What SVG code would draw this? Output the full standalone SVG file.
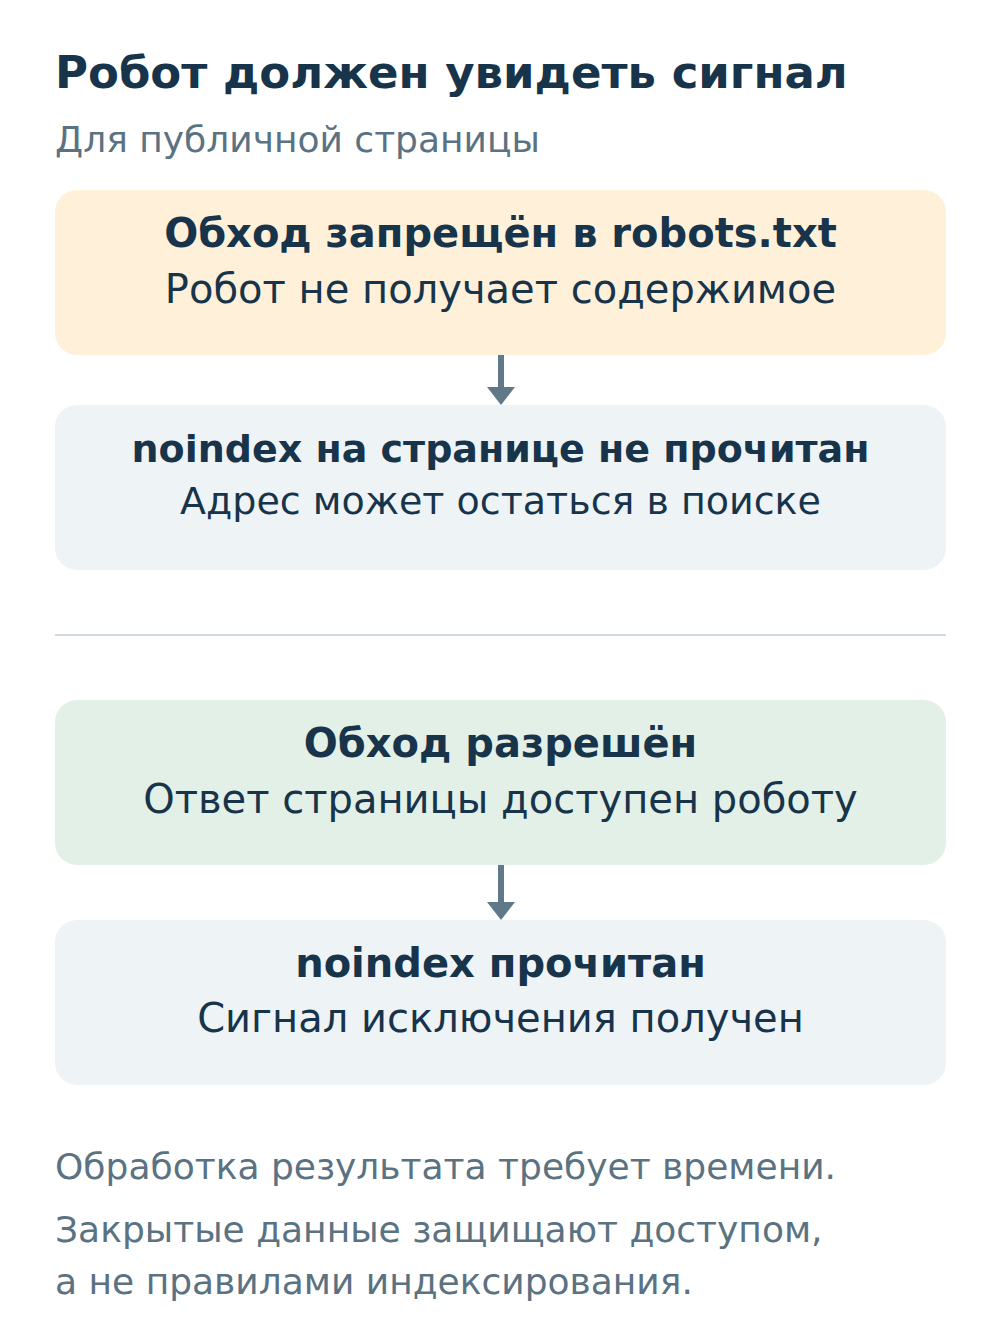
<svg xmlns="http://www.w3.org/2000/svg" width="1000" height="1340" viewBox="0 0 1000 1340">
<style>
.t{font-family:"DejaVu Sans",sans-serif;fill:#18344a}
.h{font-size:45px;font-weight:bold}
.sub{font-family:"DejaVu Sans",sans-serif;fill:#5b7282;font-size:36px}
.bt{font-size:40px;font-weight:bold}
.bb{font-size:40px}
.fit{font-size:38px}
.box{stroke:none}
.conn{stroke:#5f7989;stroke-width:6;fill:none}
.ah{fill:#5f7989}
</style>
<rect width="1000" height="1340" fill="#ffffff"/>
<text class="t h" x="55" y="88">Робот должен увидеть сигнал</text>
<text class="sub" x="55" y="152">Для публичной страницы</text>
<g id="node-blocked">
<rect class="box" x="55" y="190" width="891" height="165" rx="22" fill="#fff0da"/>
<text class="t bt" x="500.5" y="247" text-anchor="middle">Обход запрещён в robots.txt</text>
<text class="t bb" x="500.5" y="303" text-anchor="middle">Робот не получает содержимое</text>
</g>
<g id="node-noindex-unread">
<rect class="box" x="55" y="405" width="891" height="165" rx="22" fill="#eef3f6"/>
<text class="t bt fit" x="500.5" y="462" text-anchor="middle">noindex на странице не прочитан</text>
<text class="t bb fit" x="500.5" y="514" text-anchor="middle">Адрес может остаться в поиске</text>
</g>
<line x1="55" y1="635" x2="946" y2="635" stroke="#d0d9df" stroke-width="2"/>
<g id="node-allowed">
<rect class="box" x="55" y="700" width="891" height="165" rx="22" fill="#e3f0e8"/>
<text class="t bt" x="500.5" y="757" text-anchor="middle">Обход разрешён</text>
<text class="t bb" x="500.5" y="813" text-anchor="middle">Ответ страницы доступен роботу</text>
</g>
<g id="node-noindex-read">
<rect class="box" x="55" y="920" width="891" height="165" rx="22" fill="#eef3f6"/>
<text class="t bt" x="500.5" y="977" text-anchor="middle">noindex прочитан</text>
<text class="t bb" x="500.5" y="1032" text-anchor="middle">Сигнал исключения получен</text>
</g>
<g id="connectors">
<line class="conn" x1="501" y1="355" x2="501" y2="389"/>
<polygon class="ah" points="487,387 515,387 501,405"/>
<line class="conn" x1="501" y1="865" x2="501" y2="904"/>
<polygon class="ah" points="487,902 515,902 501,920"/>
</g>
<text class="sub" x="55" y="1179">Обработка результата требует времени.</text>
<text class="sub" x="55" y="1242">Закрытые данные защищают доступом,</text>
<text class="sub" x="55" y="1294">а не правилами индексирования.</text>
</svg>
